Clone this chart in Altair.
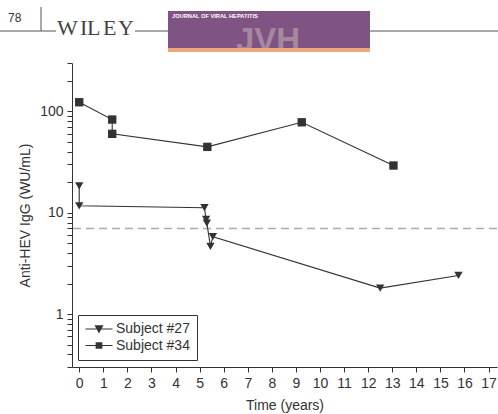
import altair as alt
import pandas as pd

# ---- data ----
t27 = [0, 0, 5.2, 5.27, 5.3, 5.45, 5.55, 12.5, 15.75]
v27 = [18.4, 11.7, 11.2, 8.6, 7.9, 4.65, 5.8, 1.8, 2.4]
t34 = [0, 1.37, 1.37, 5.32, 9.24, 13.05]
v34 = [123, 83, 60, 44.6, 78, 29.2]
subjects = ["Subject #27", "Subject #34"]
threshold = [7.0]
x_ticks = list(range(0, 18))
y_ticks = [0.3, 0.4, 0.5, 0.6, 0.7, 0.8, 0.9,
           1, 2, 3, 4, 5, 6, 7, 8, 9,
           10, 20, 30, 40, 50, 60, 70, 80, 90,
           100, 200, 300]
wiley_letters = ["W", "I", "L", "E", "Y"]

rows = []
for i, (t, v) in enumerate(zip(t27, v27)):
    rows.append({"t": t, "v": v, "subject": subjects[0], "idx": i})
for i, (t, v) in enumerate(zip(t34, v34)):
    rows.append({"t": t, "v": v, "subject": subjects[1], "idx": i})
df = pd.DataFrame(rows)

FONT = "Liberation Sans"
DARK = "#333333"

xscale = alt.Scale(domain=[-0.3, 17.35], nice=False, zero=False)
yscale = alt.Scale(type="log", domain=[0.3, 300], nice=False)

xaxis = alt.Axis(values=x_ticks, title="Time (years)", grid=False,
                 tickSize=5, labelPadding=4, titlePadding=8,
                 labelOverlap=False, labelFlush=False, format="d")
yaxis = alt.Axis(values=y_ticks, title="Anti-HEV IgG (WU/mL)", grid=False,
                 tickSize=5, labelPadding=4, titlePadding=7,
                 labelOverlap=False, labelFlush=False,
                 labelExpr="datum.value == 1 ? '1' : datum.value == 10 ? '10' : datum.value == 100 ? '100' : ''")

base = alt.Chart(df).encode(
    x=alt.X("t:Q", scale=xscale, axis=xaxis),
    y=alt.Y("v:Q", scale=yscale, axis=yaxis),
)

lines = base.mark_line(color=DARK, strokeWidth=1.1).encode(
    detail="subject:N", order=alt.Order("idx:Q"))

marker_shapes = ["triangle-down", "square"]
point_layers = [
    base.transform_filter(alt.datum.subject == s).mark_point(
        filled=True, color=DARK, opacity=1, size=70, shape=shp)
    for s, shp in zip(subjects, marker_shapes)
]

# legend glyphs: a short line with the marker on it (filled paths, 14px unit box)
legend_paths = ["M-1.93,-0.075H1.93V0.075H-1.93Z M-0.64,-0.52H0.64L0,0.64Z",
                "M-1.93,-0.075H1.93V0.075H-1.93Z M-0.48,-0.48H0.48V0.48H-0.48Z"]
legend_layer = base.mark_point(filled=True, color=DARK, opacity=0, size=10).encode(
    shape=alt.Shape("subject:N", scale=alt.Scale(domain=subjects, range=legend_paths),
                    legend=alt.Legend(title=None, orient="none", legendX=6, legendY=252,
                                      symbolOpacity=1, symbolSize=196,
                                      symbolStrokeWidth=0, symbolFillColor=DARK,
                                      symbolOffset=7,
                                      labelFont=FONT, labelFontSize=14, labelColor=DARK,
                                      labelOffset=10, rowPadding=2.5,
                                      strokeColor=DARK, fillColor="white", padding=7)))

thr = alt.Chart(pd.DataFrame({"thr": threshold})).mark_rule(
    color="#aaaaaa", strokeDash=[8, 5], strokeWidth=1.5).encode(
    y=alt.Y("thr:Q", scale=yscale, axis=yaxis))

# ---- page header (journal banner) ----
one = pd.DataFrame({"a": [0]})
OX, OY = 72, 63  # plot origin in page pixels


def hx(v):
    return alt.value(v - OX)


def hy(v):
    return alt.value(v - OY)


LINE_Y = 31
hdr = []
hdr.append(alt.Chart(one).mark_text(text="78", font=FONT, fontSize=12, color=DARK,
                                    align="left", baseline="alphabetic").encode(x=hx(8), y=hy(22)))
hdr.append(alt.Chart(one).mark_rule(color="#555555", strokeWidth=1).encode(
    x=hx(0), x2=hx(56), y=hy(LINE_Y), y2=hy(LINE_Y)))
hdr.append(alt.Chart(one).mark_rule(color="#555555", strokeWidth=1).encode(
    x=hx(41), x2=hx(41), y=hy(7), y2=hy(LINE_Y)))
hdr.append(alt.Chart(one).mark_rule(color="#555555", strokeWidth=1).encode(
    x=hx(135), x2=hx(168), y=hy(LINE_Y), y2=hy(LINE_Y)))
hdr.append(alt.Chart(one).mark_rule(color="#555555", strokeWidth=1).encode(
    x=hx(370), x2=hx(498), y=hy(LINE_Y), y2=hy(LINE_Y)))
letter_x = [57, 80, 87, 103, 118]
for ch, lx in zip(wiley_letters, letter_x):
    hdr.append(alt.Chart(one).mark_text(text=ch, font="Liberation Serif", fontSize=22, color="#444444",
                                        align="left", baseline="alphabetic").encode(x=hx(lx), y=hy(35)))
hdr.append(alt.Chart(one).mark_rect(color="#7f5482").encode(
    x=hx(168), x2=hx(370), y=hy(11), y2=hy(48)))
hdr.append(alt.Chart(one).mark_text(text="JVH", font=FONT, fontSize=33, fontWeight="bold",
                                    color="#a3889f", align="left", baseline="alphabetic").encode(
    x=hx(236), y=hy(51)))
hdr.append(alt.Chart(one).mark_rect(color="#eda77a").encode(
    x=hx(168), x2=hx(370), y=hy(48), y2=hy(52)))
hdr.append(alt.Chart(one).mark_text(text="JOURNAL OF VIRAL HEPATITIS", font=FONT, fontSize=5.7,
                                    fontWeight="bold", color="white", align="left",
                                    baseline="alphabetic").encode(x=hx(172), y=hy(18)))

chart = alt.layer(thr, lines, legend_layer, *point_layers, *hdr).properties(
    width=425, height=304,
    autosize=alt.AutoSizeParams(type="none"),
    padding={"left": 72, "top": 63, "right": 1, "bottom": 47},
).configure_view(stroke=None).configure_axis(
    domainColor=DARK, tickColor=DARK, labelColor=DARK, titleColor=DARK,
    labelFont=FONT, titleFont=FONT, labelFontSize=14, titleFontSize=14,
    titleFontWeight="normal", domainWidth=1, tickWidth=1
)

chart.save("out.html", embed_options={"renderer": "svg", "actions": False})
